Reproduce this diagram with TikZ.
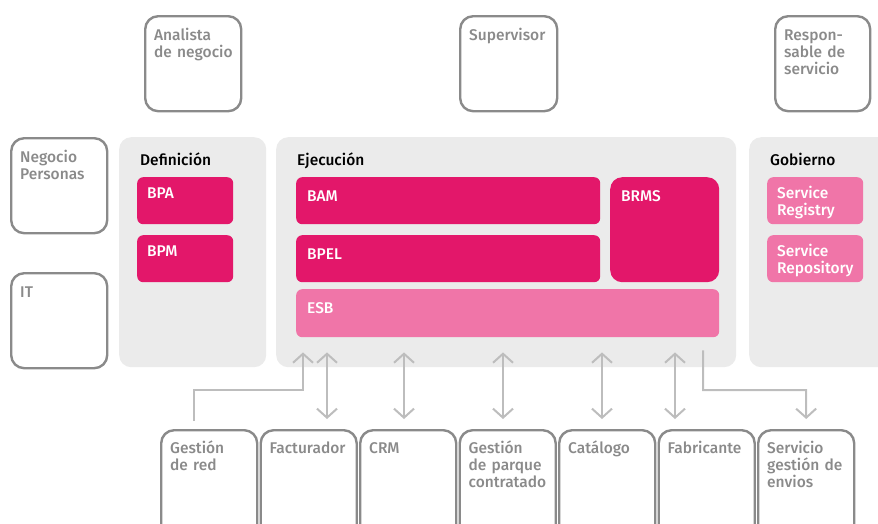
\documentclass[tikz,border=0pt]{standalone}
\usepackage{fontspec}
\setmainfont{Fira Sans}[BoldFont={Fira Sans Medium}]
\usetikzlibrary{arrows.meta,calc,positioning}
\definecolor{pinkdark}{HTML}{E3176A}
\definecolor{pinklight}{HTML}{F075A8}
\definecolor{panelgray}{HTML}{EBEBEB}
\definecolor{edgegray}{HTML}{8A8A8A}
\definecolor{linkgray}{HTML}{BDBDBD}
\tikzset{
  actor/.style={draw=edgegray,line width=2.4pt,rounded corners=13pt,anchor=north west,
    minimum width=96pt,minimum height=95pt,inner sep=0pt},
  panel/.style={fill=panelgray,rounded corners=12pt,anchor=north west,minimum height=230pt,inner sep=0pt},
  tool/.style={fill=pinkdark,rounded corners=6pt,anchor=north west,minimum width=96pt,
    minimum height=47pt,inner sep=0pt},
  txt/.style={font=\fontsize{15.5}{17.2}\selectfont\bfseries,text width=90pt,align=left,
    anchor=base west,inner sep=0pt},
  graytxt/.style={txt,text=edgegray},
  whitetxt/.style={txt,text=white},
  titletxt/.style={txt,text=black},
  chev/.tip={Straight Barb[length=9pt,width=20pt]},
  dlink/.style={draw=linkgray,line width=2pt,chev-chev},
  ulink/.style={draw=linkgray,line width=2pt,-chev}
}
\begin{document}
\begin{tikzpicture}[x=1pt,y=-1pt]
  \useasboundingbox (0,0) rectangle (878,523);

  \node[actor] (ana) at (144,15) {};
  \node[actor,minimum width=97pt] (sup) at (459,15) {};
  \node[actor,minimum width=95pt] (resp) at (774,15) {};
  \node[actor] (neg) at (10,137) {};
  \node[actor] (it) at (10,272) {};

  \node[panel,minimum width=147pt] (def) at (119,137) {};
  \node[panel,minimum width=460pt] (eje) at (276,137) {};
  \node[panel,minimum width=150pt] (gob) at (749,137) {};

  \node[tool] (bpa) at (137,177) {};
  \node[tool] (bpm) at (137,235) {};
  \node[tool,minimum width=304pt] (bam) at (296,177) {};
  \node[tool,minimum width=304pt] (bpel) at (296,235) {};
  \node[tool,minimum width=109pt,minimum height=105pt,rounded corners=12pt] (brms) at (610,177) {};
  \node[tool,fill=pinklight,minimum width=423pt,minimum height=48pt] (esb) at (296,289) {};
  \node[tool,fill=pinklight] (sreg) at (767,177) {};
  \node[tool,fill=pinklight] (srep) at (767,235) {};

  \foreach \n/\x in {gred/160,fac/259.5,crm/359,gpc/458.5,cat/558,fab/657.5,env/757}
    \node[actor,minimum height=110pt] (\n) at (\x,429) {};

  \foreach \n/\t in {ana/{Analista\\de negocio},sup/{Supervisor},resp/{Respon-\\sable de\\servicio},
      neg/{Negocio\\Personas},it/{IT}}
    \node[graytxt] (\n-t) at ([shift={(10pt,-25pt)}]\n.north west) {\t};
  \foreach \n/\t in {gred/{Gestión\\de red},fac/{Facturador},crm/{CRM},gpc/{Gestión\\de parque\\contratado},
      cat/{Catálogo},fab/{Fabricante},env/{Servicio\\gestión de\\envios}}
    \node[graytxt] (\n-t) at ([shift={(10pt,-24pt)}]\n.north west) {\t};

  \foreach \n/\t in {def/{Definición},eje/{Ejecución},gob/{Gobierno}}
    \node[titletxt] (\n-t) at ([shift={(21pt,-28pt)}]\n.north west) {\t};

  \foreach \n/\t in {bpa/{BPA},bpm/{BPM},sreg/{Service\\Registry},srep/{Service\\Repository}}
    \node[whitetxt] (\n-t) at ([shift={(10pt,-21pt)}]\n.north west) {\t};
  \foreach \n/\t in {bam/{BAM},bpel/{BPEL},brms/{BRMS},esb/{ESB}}
    \node[whitetxt] (\n-t) at ([shift={(11pt,-24pt)}]\n.north west) {\t};

  \foreach \n/\x in {fac/327,crm/404,gpc/503,cat/602,fab/675}
    \draw[dlink] ([yshift=-15pt]esb.south -| \x,0) -- ([yshift=10pt]\n.north -| \x,0);
  \draw[ulink] ([yshift=8pt]gred.north -| 194,0) |- (303,390) -- ([yshift=-15pt]esb.south -| 303,0);
  \draw[ulink] ([yshift=-13pt]esb.south -| 703,0) |- (806,390) -- ([yshift=10pt]env.north);
\end{tikzpicture}
\end{document}
